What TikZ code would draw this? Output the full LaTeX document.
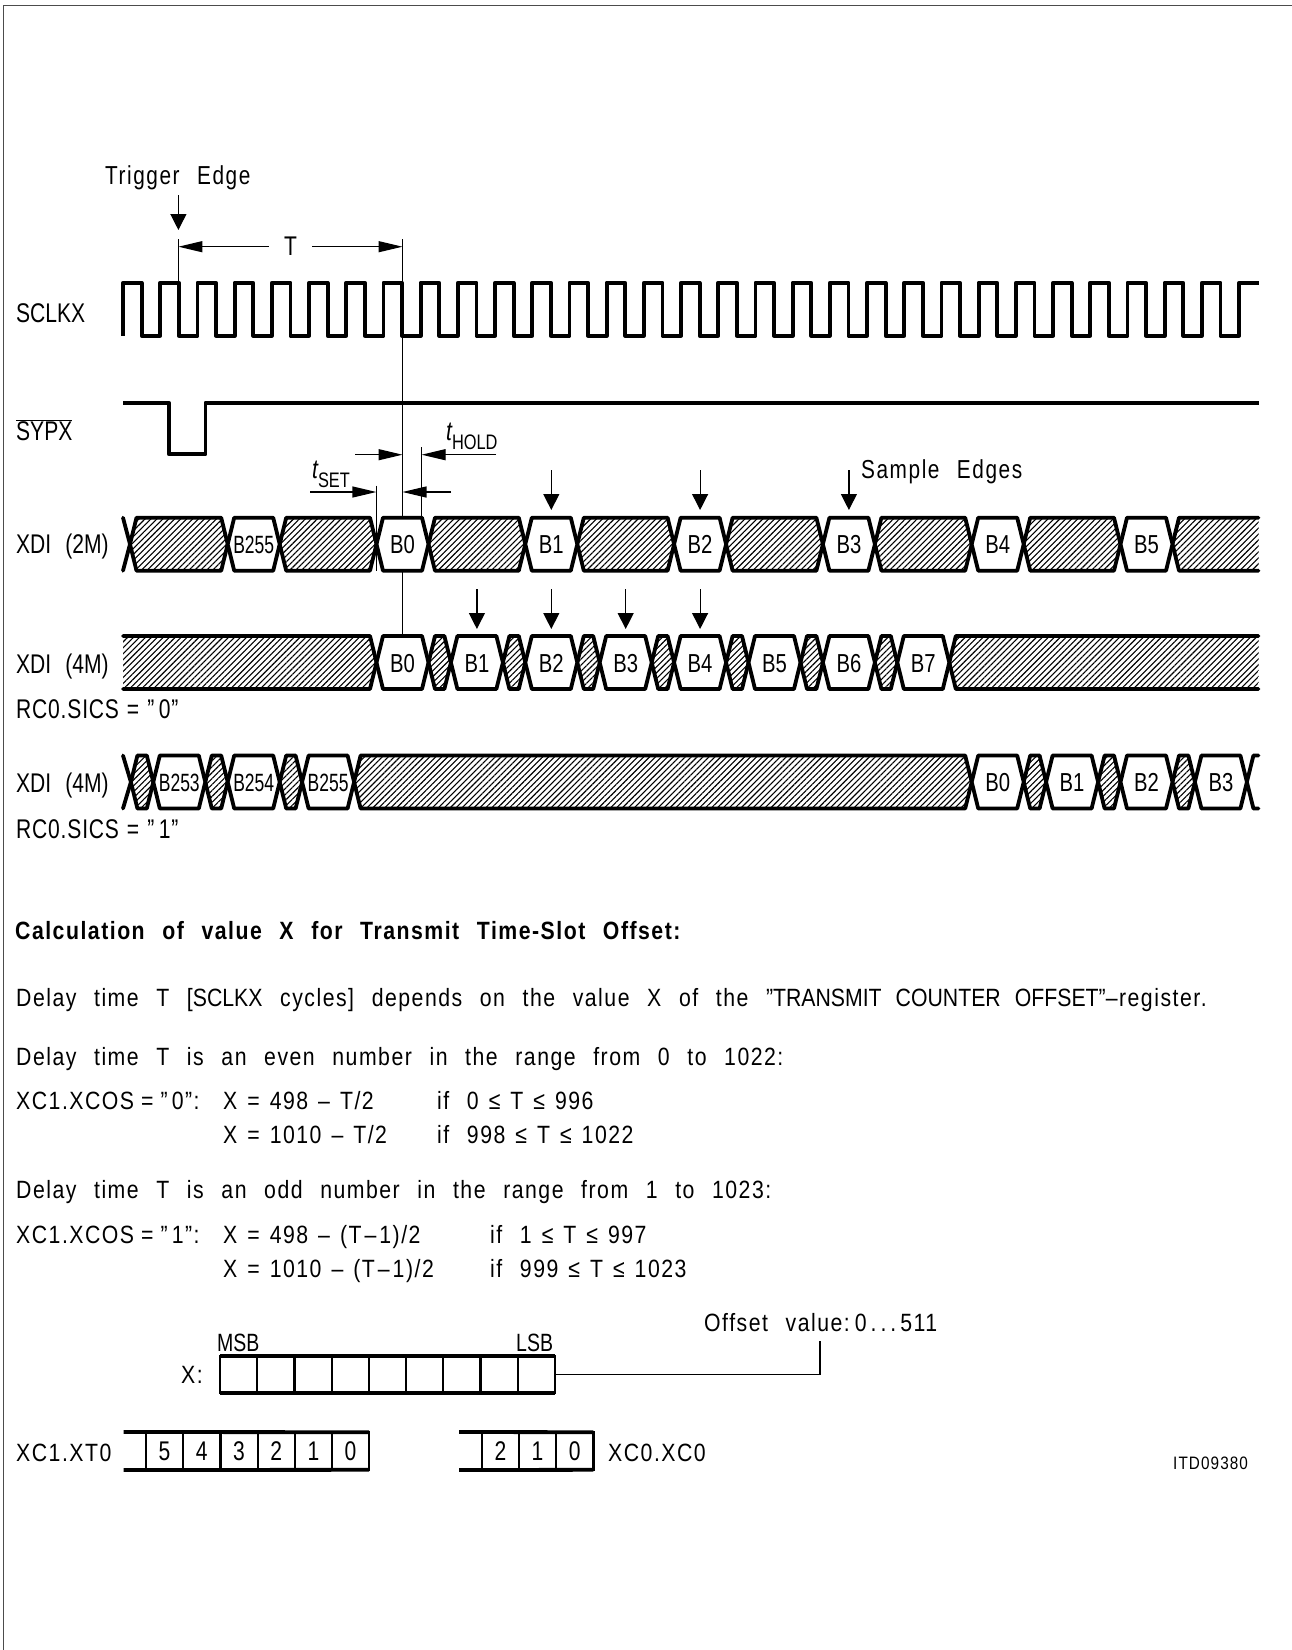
\documentclass[tikz,border=0pt]{standalone}
\usepackage{fontspec}
\setmainfont[FakeStretch=0.78,WordSpace=1.6]{Liberation Sans}
\newfontfamily\tightfont[FakeStretch=0.7]{Liberation Sans}
\newfontfamily\bodyfont[FakeStretch=0.85,LetterSpace=6,WordSpace=2.38]{Liberation Sans}
\newcommand{\gp}{\kern10pt}
\usetikzlibrary{arrows.meta,patterns.meta,positioning}
\tikzset{
  wave/.style={line width=3.8pt,line join=round,line cap=round},
  hair/.style={line width=1.2pt},
  hatch/.style={pattern={Lines[angle=45,distance=4.2pt,line width=1.1pt]}},
  vtip/.style={hair,-{Triangle[length=16pt,width=16pt]}},
  htip/.style={hair,-{Triangle[length=24pt,width=11pt]}},
  big/.style={anchor=base west,inner sep=0pt,font=\fontsize{27}{30}\selectfont},
  body/.style={anchor=base west,inner sep=0pt,font=\bodyfont\fontsize{25}{30}\selectfont},
  head/.style={anchor=base west,inner sep=0pt,font=\bodyfont\addfontfeature{FakeStretch=0.8}\fontsize{26}{30}\selectfont},
  sics/.style={anchor=base west,inner sep=0pt,font=\addfontfeature{LetterSpace=3}\fontsize{27}{30}\selectfont},
  small/.style={anchor=base west,inner sep=0pt,font=\fontsize{25}{30}\selectfont},
  cell/.style={inner sep=0pt,text height=19pt,text depth=0pt,font=\fontsize{26}{30}\selectfont},
  tinycell/.style={inner sep=0pt,text height=18pt,text depth=0pt,font=\tightfont\fontsize{25}{30}\selectfont},
  regcell/.style={draw,line width=2.2pt,inner sep=0pt,outer sep=0pt,minimum width=37.2pt,
    minimum height=37.6pt,text height=19pt,text depth=0pt,font=\fontsize{27}{30}\selectfont},
}
\newcommand{\hexa}[4][cell]{
  \draw[wave,fill=white] ({#3-26},26.5) -- ({#3-19.5},0) -- ({#3+19.5},0) -- ({#3+26},26.5)
    -- ({#3+19.5},53) -- ({#3-19.5},53) -- cycle;
  \node[#1] (#2) at (#3,26.5) {#4};
}
\newcommand{\hatched}[2]{
  \draw[wave,hatch] (#1,26.5) -- ({#1+6.5},0) -- ({#2-6.5},0) -- (#2,26.5)
    -- ({#2-6.5},53) -- ({#1+6.5},53) -- cycle;
}
\begin{document}
\begin{tikzpicture}[x=1pt,y=-1pt]
    \useasboundingbox (0,0) rectangle (1292,1650);
    \draw[line width=1.6pt,black!70] (1292,5.5) -- (3.5,5.5) -- (3.5,1650);

    \node[head] (trigtext) at (105,184) {Trigger Edge};
    \coordinate (trigtop) at (178.4,195);
    \coordinate (trigtip) at (178.4,230);
    \draw[vtip] (trigtop) -- (trigtip);

    \coordinate (ta) at (178.4,246.7);
    \coordinate (tb) at (402.5,246.7);
    \node[big,anchor=center] (ttext) at (290.5,246) {T};
    \draw[htip] (ta -| ttext.west) ++(-15,0) coordinate (tl) -- (ta);
    \draw[htip] (tb -| ttext.east) ++(15,0) coordinate (tr) -- (tb);
    \draw[hair] (178.4,239) coordinate (edgeup) -- (178.4,282.7) coordinate (edgedown);
    \draw[hair] (402.5,239) coordinate (bitup) -- (402.5,635.7) coordinate (bitdown);

    \node[big] (sclkx) at (16,322) {SCLKX};
    \draw[wave,line cap=butt] (123,335.7)
      \foreach \k in {0,...,29}{
        -- ({123+37.2*\k},282.7) -- ({123+18.6+37.2*\k},282.7)
        -- ({123+18.6+37.2*\k},335.7) -- ({123+37.2*(\k+1)},335.7)
      } -- ({123+37.2*30},282.7) -- (1258.5,282.7);

    \node[big] (sypx) at (16,440) {$\overline{\mbox{SYPX}}$};
    \draw[wave,line cap=butt] (123,402.7) -- (168.9,402.7) -- (168.9,454.3) -- (205.4,454.3)
      -- (205.4,402.7) -- (1258.5,402.7);

    \coordinate (seta) at (310,492);
    \coordinate (setb) at (376.4,492);
    \coordinate (setc) at (451,492);
    \coordinate (setd) at (402.5,492);
    \coordinate (holda) at (355,454.7);
    \coordinate (holdb) at (402.5,454.7);
    \coordinate (holdc) at (496,454.7);
    \coordinate (holdd) at (421.6,454.7);
    \draw[htip] (seta) -- (setb);
    \draw[htip] (setc) -- (setd);
    \draw[htip] (holda) -- (holdb);
    \draw[htip] (holdc) -- (holdd);
    \draw[hair] (376.4,485.7) -- (376.4,570.7);
    \draw[hair] (421.6,447) -- (421.6,517.7);
    \node[big] (tset) at (312,478) {\itshape t\raisebox{-9pt}{\upshape\fontsize{21}{24}\selectfont SET}};
    \node[big] (thold) at (446,440) {\itshape t\raisebox{-9pt}{\upshape\fontsize{21}{24}\selectfont HOLD}};
    \node[head] (sampletext) at (861,478) {Sample Edges};

    \foreach \n/\x in {a/551.3,b/700.1,c/848.9}{
      \coordinate (sm\n) at (\x,470);
      \coordinate (st\n) at (\x,510);
      \draw[vtip] (sm\n) -- (st\n);
    }
    \foreach \n/\x in {d/476.9,e/551.3,f/625.7,g/700.1}{
      \coordinate (sm\n) at (\x,589);
      \coordinate (st\n) at (\x,629);
      \draw[vtip] (sm\n) -- (st\n);
    }

    \node[big] (xditwo) at (16,553) {XDI\kern14pt(2M)};
    \begin{scope}[yshift=-517.7pt]
      \draw[wave] (123,0) -- (130,26.5) -- (123,53);
      \foreach \a/\b in {130/227.7,279.7/376.5,428.5/525.3,577.3/674.1,726.1/822.9,874.9/971.7,1023.7/1120.5}{
        \hatched{\a}{\b}
      }
      \draw[wave,hatch] (1258.5,0) -- (1179,0) -- (1172.5,26.5) -- (1179,53) -- (1258.5,53);
      \hexa[tinycell]{twob255}{253.7}{B255}
      \foreach \n/\c/\t in {twob0/402.5/B0,twob1/551.3/B1,twob2/700.1/B2,twob3/848.9/B3,twob4/997.7/B4,twob5/1146.5/B5}{
        \hexa{\n}{\c}{\t}
      }
    \end{scope}

    \node[big] (xdifour) at (16,673) {XDI\kern14pt(4M)};
    \node[sics] (sicszero) at (16,718) {RC0.SICS\kern8pt=\kern8pt”\,0”};
    \begin{scope}[yshift=-636pt]
      \draw[wave,hatch] (123,0) -- (370,0) -- (376.5,26.5) -- (370,53) -- (123,53);
      \foreach \a/\b in {428.5/450.9,502.9/525.3,577.3/599.7,651.7/674.1,726.1/748.5,800.5/822.9,874.9/897.3}{
        \hatched{\a}{\b}
      }
      \draw[wave,hatch] (1258.5,0) -- (955.8,0) -- (949.3,26.5) -- (955.8,53) -- (1258.5,53);
      \foreach \n/\c/\t in {fourb0/402.5/B0,fourb1/476.9/B1,fourb2/551.3/B2,fourb3/625.7/B3,fourb4/700.1/B4,fourb5/774.5/B5,fourb6/848.9/B6,fourb7/923.3/B7}{
        \hexa{\n}{\c}{\t}
      }
    \end{scope}

    \node[big] (xdisics) at (16,792) {XDI\kern14pt(4M)};
    \node[sics] (sicsone) at (16,838) {RC0.SICS\kern8pt=\kern8pt”\,1”};
    \begin{scope}[yshift=-755.5pt]
      \draw[wave] (123,0) -- (130.9,26.5) -- (123,53);
      \foreach \a/\b in {130.9/153.3,205.3/227.7,279.7/302.1,354.1/971.7,1023.7/1046.1,1098.1/1120.5,1172.5/1194.9}{
        \hatched{\a}{\b}
      }
      \foreach \n/\c/\t in {sicb253/179.3/B253,sicb254/253.7/B254,sicb255/328.1/B255}{
        \hexa[tinycell]{\n}{\c}{\t}
      }
      \foreach \n/\c/\t in {sicb0/997.7/B0,sicb1/1072.1/B1,sicb2/1146.5/B2,sicb3/1220.9/B3}{
        \hexa{\n}{\c}{\t}
      }
      \draw[wave] (1258.5,0) -- (1253.4,0) -- (1246.9,26.5) -- (1253.4,53) -- (1258.5,53);
    \end{scope}

    \node[body,font=\bodyfont\fontsize{25}{30}\selectfont\bfseries] (calc) at (15,939) {Calculation of value X for Transmit Time-Slot Offset:};
    \node[body] (deptext) at (16,1006) {Delay time T [{\addfontfeature{LetterSpace=0}SCLKX} cycles] depends on the value X of the {\addfontfeature{LetterSpace=0}”TRANSMIT COUNTER OFFSET”}–register.};
    \node[body] (eventext) at (16,1065) {Delay time T is an even number in the range from 0 to 1022:};
    \node[body] (xcoszero) at (16,1109) {XC1.XCOS\kern7pt=\kern7pt”\,0”:};
    \node[body] (evena) at (223,1109) {X\gp=\gp498\gp–\gp T/2};
    \node[body] (evenb) at (223,1143) {X\gp=\gp1010\gp–\gp T/2};
    \node[body] (ifa) at (437,1109) {if 0\gp≤\gp T\gp≤\gp996};
    \node[body] (ifb) at (437,1143) {if 998\gp≤\gp T\gp≤\gp1022};
    \node[body] (oddtext) at (16,1198) {Delay time T is an odd number in the range from 1 to 1023:};
    \node[body] (xcosone) at (16,1243) {XC1.XCOS\kern7pt=\kern7pt”\,1”:};
    \node[body] (odda) at (223,1243) {X\gp=\gp498\gp–\gp(T\kern3pt–\kern3pt1)/2};
    \node[body] (oddb) at (223,1277) {X\gp=\gp1010\gp–\gp(T\kern3pt–\kern3pt1)/2};
    \node[body] (ifc) at (490,1243) {if 1\gp≤\gp T\gp≤\gp997};
    \node[body] (ifd) at (490,1277) {if 999\gp≤\gp T\gp≤\gp1023};

    \node[regcell] (x1) at (238.6,1374.5) {};
    \foreach \n [remember=\n as \p (initially 1)] in {2,...,9}{
      \node[regcell,right=0pt of x\p] (x\n) {};
    }
    \draw[wave,line cap=butt] (x1.north west) -- (x9.north east);
    \draw[wave,line cap=butt] (x1.south west) -- (x9.south east);
    \node[body,anchor=base east] (xlabel) at (203,1383) {X:};
    \node[small] (msb) at (217,1351) {MSB};
    \node[small] (lsb) at (516,1351) {LSB};
    \node[body] (offset) at (704,1331) {Offset value:\kern5pt0\kern4pt.\kern4pt.\kern4pt.\kern4pt511};
    \coordinate (bend) at (820,1374.5);
    \coordinate (leader) at (820,1341);
    \draw[hair] (x9.east) -- (bend) -- (leader);

    \node[body] (xto) at (16,1461) {XC1.XT0};
    \node[regcell] (t5) at (164.6,1451) {5};
    \node[regcell,right=0pt of t5] (t4) {4};
    \node[regcell,right=0pt of t4] (t3) {3};
    \node[regcell,right=0pt of t3] (t2) {2};
    \node[regcell,right=0pt of t2] (t1) {1};
    \node[regcell,right=0pt of t1] (t0) {0};
    \coordinate (tup) at (123.6,1432);
    \coordinate (tdown) at (123.6,1470);
    \draw[wave,line cap=butt] (tup) -- (t0.north east);
    \draw[wave,line cap=butt] (tdown) -- (t0.south east);

    \node[regcell] (c2) at (500.4,1451) {2};
    \node[regcell,right=0pt of c2] (c1) {1};
    \node[regcell,right=0pt of c1] (c0) {0};
    \coordinate (cup) at (459,1432);
    \coordinate (cdown) at (459,1470);
    \draw[wave,line cap=butt] (cup) -- (c0.north east);
    \draw[wave,line cap=butt] (cdown) -- (c0.south east);
    \node[body] (xco) at (608,1461) {XC0.XC0};
    \node[body,font=\bodyfont\fontsize{18}{20}\selectfont] (itd) at (1173,1469) {ITD09380};
    \end{tikzpicture}
\end{document}
